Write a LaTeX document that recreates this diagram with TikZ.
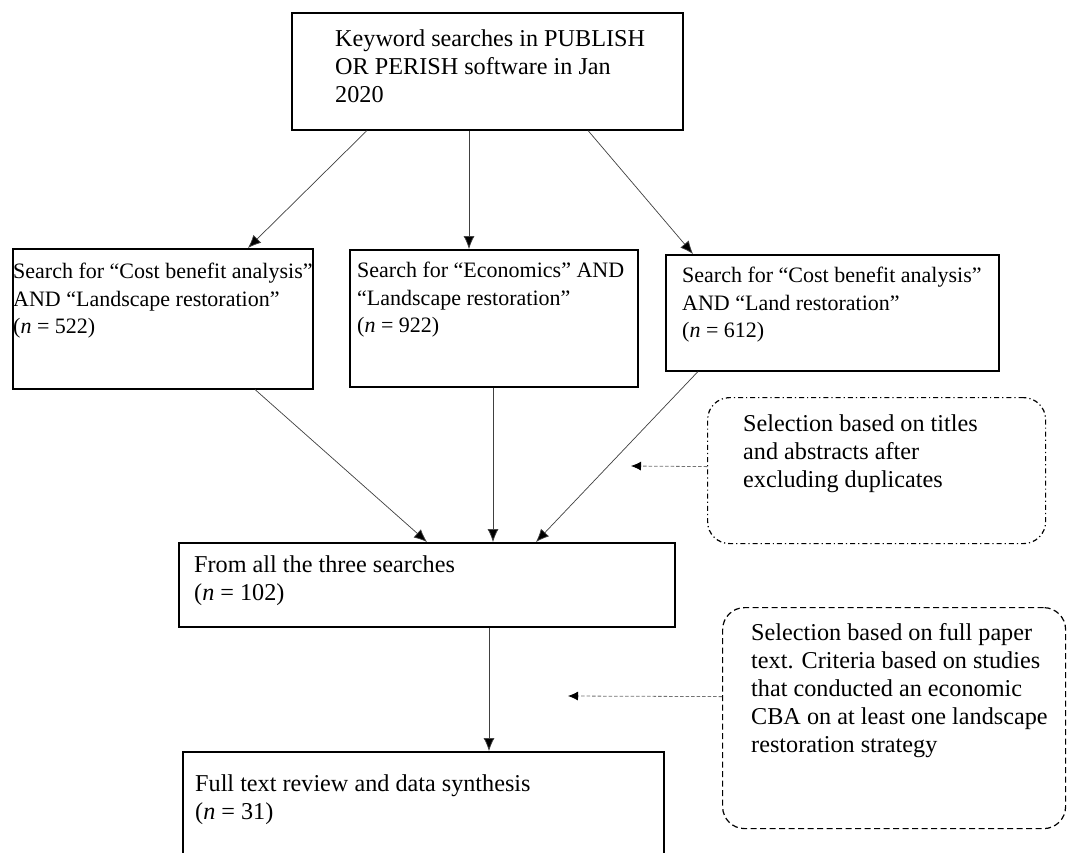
\documentclass[tikz,border=0pt]{standalone}
\usepackage{fontspec}
\setmainfont{Liberation Serif}
\usetikzlibrary{arrows.meta}
\begin{document}
\begin{tikzpicture}[x=1pt,y=-1pt,
  box/.style={draw=black, line width=1.5pt, inner sep=0pt, anchor=north west},
  txt/.style={anchor=north west, inner sep=0pt, align=left, font=\fontsize{24.2}{28}\selectfont},
  stxt/.style={txt, font=\fontsize{22}{27.5}\selectfont},
  conn/.style={draw=black!75, line width=0.7pt, -{Latex[length=13pt,width=11pt,fill=black]}},
  notebox/.style={draw=black, line width=1.2pt, inner sep=0pt, anchor=north west, rounded corners=22pt},
  notearrow/.style={draw=black!55, line width=0.8pt, dash pattern=on 3.5pt off 2pt, -{Latex[length=10pt,width=9pt,black]}}
]
\useasboundingbox (0,0) rectangle (1067,852);
\clip (0,0) rectangle (1067,852);
\fill[white] (0,0) rectangle (1067,852);

% boxes
\node[box, minimum width=391pt, minimum height=117pt] (top) at (291,12) {};
\node[box, minimum width=300pt, minimum height=140pt] (b1) at (12,248) {};
\node[box, minimum width=288pt, minimum height=137pt] (b2) at (349,249) {};
\node[box, minimum width=333pt, minimum height=116pt] (b3) at (665,254) {};
\node[box, minimum width=496pt, minimum height=84pt] (mid) at (178,542) {};
\node[box, minimum width=481pt, minimum height=200pt] (bot) at (182,751) {};
\node[notebox, dash pattern=on 5pt off 3pt on 1.2pt off 3pt, minimum width=338pt, minimum height=146pt] (dd) at (707,397) {};
\node[notebox, dash pattern=on 6pt off 3.5pt, minimum width=343pt, minimum height=221pt] (ds) at (722,607) {};

% texts
\node[txt] (t0) at (335,30) {Keyword searches in PUBLISH\\OR PERISH software in Jan\\2020};
\node[stxt] (t1) at (13,263) {Search for “Cost benefit analysis”\\AND “Landscape restoration”\\(\textit{n} = 522)};
\node[stxt] (t2) at (357,262) {Search for “Economics” AND\\“Landscape restoration”\\(\textit{n} = 922)};
\node[stxt] (t3) at (682,267) {Search for “Cost benefit analysis”\\AND “Land restoration”\\(\textit{n} = 612)};
\node[txt] (t4) at (194,555) {From all the three searches\\(\textit{n} = 102)};
\node[txt] (t5) at (195,774) {Full text review and data synthesis\\(\textit{n} = 31)};
\node[txt] (t6) at (743,414.5) {Selection based on titles\\and abstracts after\\excluding duplicates};
\node[txt] (t7) at (751,623) {Selection based on full paper\\text. Criteria based on studies\\that conducted an economic\\CBA on at least one landscape\\restoration strategy};

% connectors
\draw[conn] ([xshift=76pt]top.south west) -- ([xshift=236pt]b1.north west);
\draw[conn] ([xshift=178pt]top.south west) -- ([xshift=120pt]b2.north west);
\draw[conn] ([xshift=297pt]top.south west) -- ([xshift=28pt]b3.north west);
\draw[conn] ([xshift=243pt]b1.south west) -- ([xshift=249pt]mid.north west);
\draw[conn] ([xshift=144pt]b2.south west) -- ([xshift=315pt]mid.north west);
\draw[conn] ([xshift=33pt]b3.south west) -- ([xshift=358pt]mid.north west);
\draw[conn] ([xshift=311pt]mid.south west) -- ([xshift=307pt]bot.north west);

\coordinate (c1) at (631,466);
\coordinate (c2) at (568,696);
\draw[notearrow] ([yshift=4pt]dd.west) -- (c1);
\draw[notearrow] ([yshift=21.5pt]ds.west) -- (c2);
\end{tikzpicture}
\end{document}
